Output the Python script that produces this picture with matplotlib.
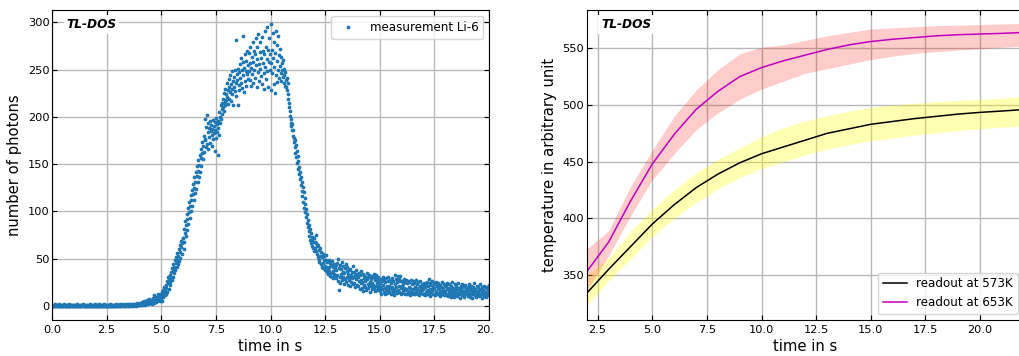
import numpy as np
import matplotlib
matplotlib.use("Agg")
import matplotlib.pyplot as plt
from matplotlib.patches import Rectangle

# left panel: photon counts, one row per second, 50 samples each (dt = 0.02 s)
dt = 0.02
photons = [
    [0,1,0,0,1,0,2,0,1,0, 0,1,1,0,0,2,0,1,0,0, 1,0,0,1,0,0,1,2,0,0, 1,0,0,0,1,1,0,0,2,0, 0,1,0,0,1,0,1,0,0,1],
    [1,0,0,1,0,1,0,0,2,0, 1,0,0,1,0,0,1,0,1,1, 0,0,2,1,0,0,1,0,0,1, 0,1,0,0,0,1,2,0,1,0, 0,1,0,1,0,0,1,0,2,0],
    [0,0,1,0,1,0,0,2,1,0, 0,1,0,0,1,1,0,0,1,0, 2,0,1,0,0,1,0,1,0,0, 1,0,0,2,0,1,0,0,1,1, 0,0,1,0,1,0,2,0,0,1],
    [1,0,1,0,1,2,0,1,0,1, 1,0,2,1,0,1,1,0,1,2, 0,1,1,0,2,1,1,0,1,2, 1,0,1,2,1,1,0,2,1,1, 2,1,0,1,2,3,1,2,1,2],
    [2,1,3,2,1,4,2,3,1,2, 3,5,2,1,4,3,2,6,3,4, 2,5,3,7,4,3,6,4,2,5, 8,4,6,3,11,5,7,4,9,6, 5,8,12,6,9,7,5,10,8,13],
    [8,15,5,12,17,9,14,20,11,16, 22,13,19,26,15,24,30,18,27,22, 33,25,36,29,40,27,37,44,31,41, 35,48,38,45,52,41,49,56,44,53, 60,47,57,64,51,62,69,55,66,72],
    [72,60,81,68,77,90,74,86,97,80, 92,104,87,99,110,93,106,117,100,112, 123,106,118,129,112,125,136,119,131,142, 124,137,148,131,143,154,136,149,160,142, 156,166,148,162,173,155,169,180,163,176],
    [175,198,168,189,202,171,184,193,166,188, 179,196,172,185,191,169,187,181,197,176, 190,183,164,194,186,178,199,184,192,160, 188,196,181,205,193,200,212,198,208,215, 203,219,210,225,206,216,229,212,224,218],
    [221,236,214,228,240,219,231,226,244,217, 235,229,248,224,238,213,242,232,227,250, 236,281,222,245,239,212,251,234,247,228, 256,241,236,262,230,249,285,244,258,226, 252,238,266,248,233,259,245,270,240,255],
    [248,268,239,257,274,233,252,263,245,279, 236,258,270,249,241,266,283,255,232,261, 274,247,288,256,238,269,251,279,243,262, 235,284,257,270,246,229,266,291,253,274, 240,261,295,248,271,232,258,283,250,266],
    [298,257,228,271,246,289,262,235,279,253, 225,268,291,244,259,276,237,286,250,265, 241,272,254,246,263,238,257,249,242,260, 236,251,244,233,247,239,231,241,228,236, 224,219,215,210,206,201,198,193,190,186],
    [192,180,186,173,178,168,175,162,170,157, 164,151,158,145,153,139,147,134,142,128, 136,122,131,116,126,110,120,104,114,99, 108,94,102,88,97,83,91,79,86,74, 81,70,77,66,73,63,70,61,68,58],
    [72,61,68,75,58,66,55,63,52,64, 49,59,46,61,53,44,57,41,52,45, 55,40,49,53,42,38,48,41,54,36, 46,39,34,49,41,37,45,32,43,35, 47,31,41,37,29,44,34,40,32,43],
    [38,29,45,33,26,50,40,17,43,31, 24,39,34,46,27,36,30,42,23,35, 40,28,44,25,37,31,41,22,34,27, 38,30,21,39,33,25,36,29,42,23, 31,36,24,33,20,38,28,34,22,30],
    [31,21,35,26,18,33,24,37,27,19, 25,34,16,29,22,32,26,20,30,17, 28,35,23,19,31,22,33,25,15,28, 21,32,24,18,30,22,34,19,27,16, 29,21,33,24,17,27,20,31,23,18],
    [24,16,28,20,13,26,18,30,22,15, 27,19,12,25,17,29,21,14,26,18, 31,21,15,27,19,13,24,17,29,20, 14,26,18,11,23,33,16,28,20,14, 25,32,17,28,21,15,26,32,19,13],
    [21,26,14,23,16,28,19,12,25,17, 27,18,13,24,16,26,20,14,25,11, 19,27,15,23,17,13,26,18,14,24, 20,12,17,27,15,23,19,13,25,17, 11,21,26,15,19,14,23,17,12,21],
    [18,24,13,20,11,23,15,25,17,12, 21,16,28,13,24,18,10,22,15,26, 17,12,20,24,13,19,11,23,16,25, 14,21,12,19,24,13,18,10,22,15, 20,12,25,16,13,19,11,23,15,21],
    [16,22,11,18,24,13,19,10,16,23, 14,18,9,21,13,16,25,11,19,14, 18,9,23,13,16,21,10,18,14,24, 12,19,13,16,8,21,14,18,11,23, 13,16,20,9,15,22,12,18,13,17],
    [15,20,10,17,23,12,18,9,15,21, 13,17,8,20,12,15,24,11,18,13, 16,9,21,12,15,20,10,17,13,23, 11,18,12,15,8,20,13,17,10,21, 12,15,19,9,14,20,11,17,12,22],
    [15],
]

# right panel: readout temperatures with uncertainty bands
t_read = [2, 3, 4, 5, 6, 7, 8, 9, 10, 11, 12, 13, 14, 15, 16, 17, 18, 19, 20, 21, 22]
temp_573 = [334, 355, 375, 395, 412, 427, 439, 449, 457, 463, 469, 475, 479, 483, 485.5, 488, 490, 492, 493.5, 494.7, 496]
low_573 = [323, 345, 364, 384, 400, 414, 426, 436, 444, 450, 456, 461, 465, 468.5, 471, 473.5, 475.5, 477.5, 479, 480.5, 481.5]
high_573 = [349.5, 365, 388, 408, 425, 440, 452, 462, 472, 480, 486, 490.5, 494.5, 498, 500, 501.5, 503, 504, 505, 506, 507.5]
temp_653 = [353, 379, 415, 448, 474, 496, 512, 525, 533, 539, 544, 549, 553, 556, 558, 559.5, 561, 562, 562.6, 563.2, 564]
low_653 = [336, 367, 402, 434, 457, 478, 493, 505, 514, 521, 528, 532, 536, 540, 543, 545.5, 547, 548.5, 549.5, 551, 552]
high_653 = [373, 389, 428, 460, 490, 513, 531, 545, 551, 553, 557, 561, 564, 567, 568, 569, 570, 570.5, 571, 571.5, 572]

t_meas = []
y_meas = []
for s, row in enumerate(photons):
    for i, v in enumerate(row):
        t_meas.append(s + i * dt)
        y_meas.append(v)

W, H = 1019, 356
fig = plt.figure(figsize=(W / 100, H / 100), dpi=100)
ax1 = fig.add_axes([52 / W, 36 / H, 437 / W, 310 / H])
ax2 = fig.add_axes([586.7 / W, 36 / H, 437 / W, 310 / H])

tick_fs = 8.2
label_fs = 10.6

ax1.plot(t_meas, y_meas, '.', color='#1f77b4', markersize=3.4, label='measurement Li-6')
ax1.set_xlim(0, 20)
ax1.set_ylim(-15, 313)
ax1.set_xticks(np.arange(0, 20.1, 2.5))
ax1.set_yticks(np.arange(0, 301, 50))
ax1.set_xlabel('time in s', fontsize=label_fs)
ax1.set_ylabel('number of photons', fontsize=label_fs)
ax1.legend(loc='upper right', fontsize=8.6)

ax2.fill_between(t_read, low_573, high_573, color='yellow', alpha=0.3, linewidth=0)
ax2.plot(t_read, temp_573, color='k', linewidth=1.1, label='readout at 573K')
ax2.fill_between(t_read, low_653, high_653, color='red', alpha=0.2, linewidth=0)
ax2.plot(t_read, temp_653, color='m', linewidth=1.1, label='readout at 653K')
ax2.set_xlim(2, 22)
ax2.set_ylim(310.4, 583.8)
ax2.set_xticks(np.arange(2.5, 20.1, 2.5))
ax2.set_yticks(np.arange(350, 551, 50))
ax2.set_xlabel('time in s', fontsize=label_fs)
ax2.set_ylabel('temperature in arbitrary unit', fontsize=label_fs)
ax2.legend(loc='lower right', fontsize=8.6)

for ax in (ax1, ax2):
    ax.grid(True, color='#b8b8b8', linewidth=1.0)
    ax.set_axisbelow(True)
    ax.tick_params(direction='in', top=True, right=True, labelsize=tick_fs)
    ax.tick_params(axis='y', pad=1.8)
    ax.text(0.033, 0.954, 'TL-DOS', transform=ax.transAxes, fontsize=8.7,
            fontweight='bold', fontstyle='italic', va='center', ha='left',
            bbox=dict(facecolor='white', edgecolor='none', pad=2))
    ax.xaxis.set_label_coords(0.5, -0.06)
    ax.yaxis.set_label_coords(-0.068, 0.5)

# the left panel's last tick label is cut off in the original
fig.add_artist(Rectangle((494 / W, 0), 44 / W, 36 / H, transform=fig.transFigure,
                         facecolor='white', edgecolor='none', zorder=10))

fig.savefig('out.png', dpi=100)
